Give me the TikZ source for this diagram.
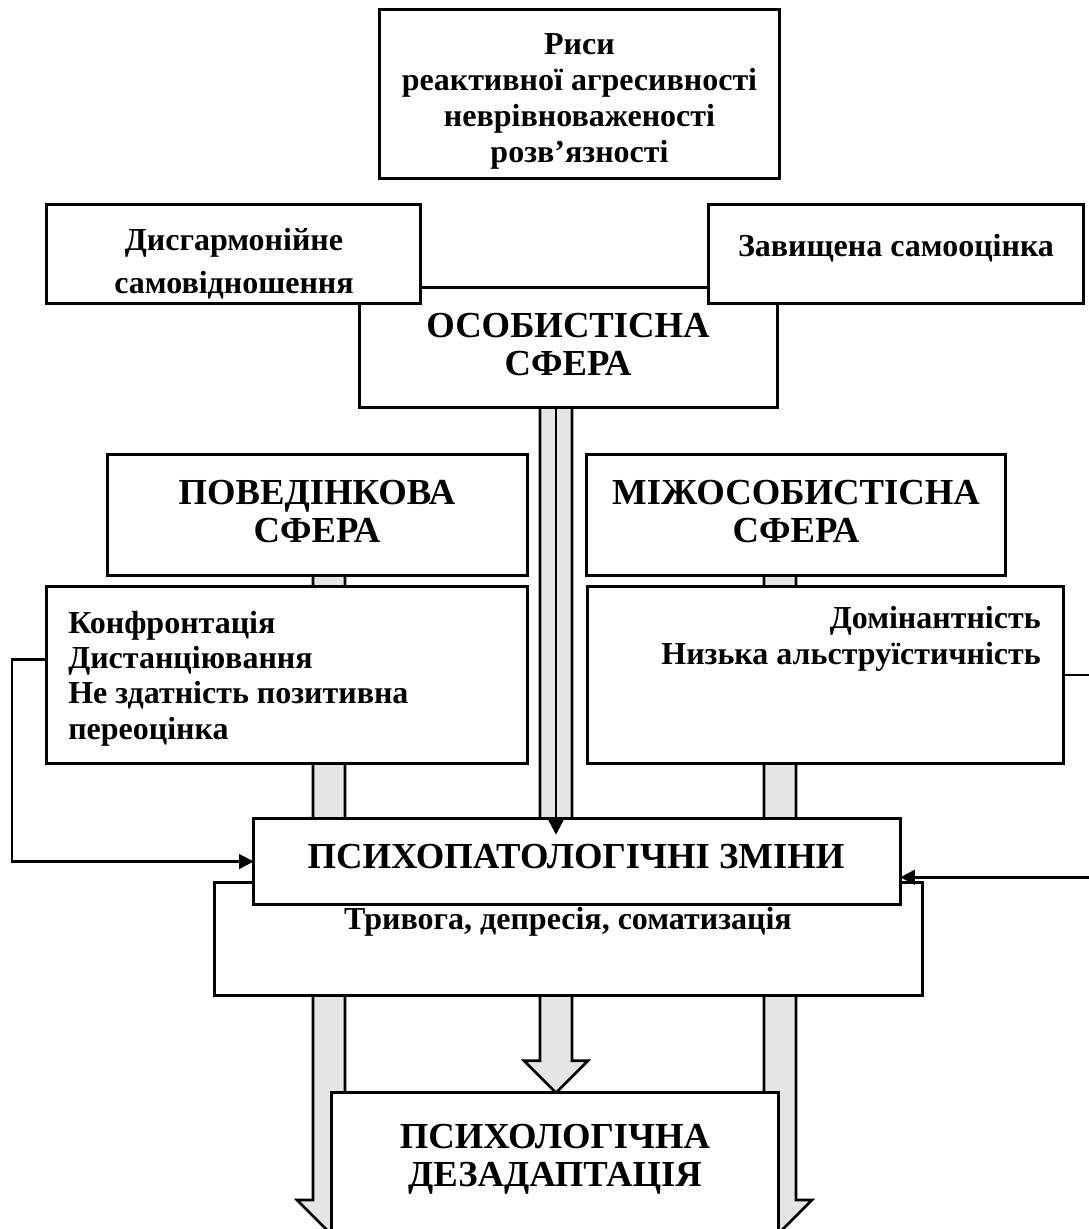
\documentclass[tikz,border=0pt]{standalone}
\usepackage{fontspec}
\setmainfont{Liberation Serif}
\usetikzlibrary{arrows.meta,calc}
\newcommand{\myshaft}[2]{%
  \draw[shaftst] let \p1=(#1), \p2=(#2) in
    (\x1-12pt,\y1) -- (\x1-12pt,\y2+24pt) -- (\x1-24pt,\y2+24pt) -- (\x1,\y2)
    -- (\x1+24pt,\y2+24pt) -- (\x1+12pt,\y2+24pt) -- (\x1+12pt,\y1) -- cycle;}
\tikzset{
  box/.style={draw, fill=white, line width=2pt, inner sep=0pt},
  shaftst/.style={draw, fill=black!10, line width=2pt, line join=miter},
  smalltxt/.style={font=\fontsize{24}{27.2}\selectfont\bfseries, inner sep=0pt},
  bigtxt/.style={font=\fontsize{27.5}{28.5}\selectfont\bfseries, align=center, inner sep=0pt},
  conn/.style={line width=1.9pt, -{Triangle[length=11pt,width=11pt]}},
}
\begin{document}
\begin{tikzpicture}[x=0.75pt,y=-0.75pt]
\useasboundingbox (0,0) rectangle (1089,1229);
\fill[white] (0,0) rectangle (1089,1229);
\clip (0,0) rectangle (1089,1229);

% boxes (geometry only first, for anchors)
\path
  (579.5,94)   node[minimum width=399*0.75pt, minimum height=168*0.75pt, inner sep=0pt] (risy) {}
  (568.5,347.5) node[minimum width=417*0.75pt, minimum height=119*0.75pt, inner sep=0pt] (osob) {}
  (233.5,254)  node[minimum width=373*0.75pt, minimum height=98*0.75pt, inner sep=0pt] (dys) {}
  (896,254)    node[minimum width=374*0.75pt, minimum height=98*0.75pt, inner sep=0pt] (zav) {}
  (317.5,515)  node[minimum width=419*0.75pt, minimum height=120*0.75pt, inner sep=0pt] (pov) {}
  (287,675)    node[minimum width=480*0.75pt, minimum height=177*0.75pt, inner sep=0pt] (konf) {}
  (796,515)    node[minimum width=418*0.75pt, minimum height=120*0.75pt, inner sep=0pt] (mizh) {}
  (825.5,675)  node[minimum width=475*0.75pt, minimum height=177*0.75pt, inner sep=0pt] (dom) {}
  (568.5,939)  node[minimum width=707*0.75pt, minimum height=112*0.75pt, inner sep=0pt] (tryv) {}
  (577,861.5)  node[minimum width=646*0.75pt, minimum height=85*0.75pt, inner sep=0pt] (psy) {}
  (555,1166.5) node[minimum width=446*0.75pt, minimum height=147*0.75pt, inner sep=0pt] (dez) {};

\coordinate (xl) at (329,0);
\coordinate (xr) at (780,0);
\coordinate (xm) at (556,0);
\coordinate (tipL) at (329,1232);
\coordinate (tipR) at (780,1232);

% block arrows (behind boxes)
\myshaft{xl |- pov.south}{tipL}
\myshaft{xr |- mizh.south}{tipR}
\myshaft{xm |- osob.south}{xm |- dez.north}

% visible boxes
\foreach \b in {risy,osob,dys,zav,pov,konf,mizh,dom,tryv,psy,dez}{
  \draw[box] (\b.north west) rectangle (\b.south east);
}

% texts
\node[smalltxt, align=center] (trisy) at (579.5,101.5)
  {Риси\\реактивної агресивності\\неврівноваженості\\розв’язності};
\node[smalltxt, align=center, font=\fontsize{24}{32}\selectfont\bfseries] (tdys) at (234,264)
  {Дисгармонійне\\самовідношення};
\node[smalltxt] (tzav) at (896,248) {Завищена самооцінка};
\node[bigtxt] (tosob) at (568,345) {ОСОБИСТІСНА\\СФЕРА};
\node[bigtxt] (tpov) at (317,512) {ПОВЕДІНКОВА\\СФЕРА};
\node[smalltxt, align=left, anchor=west, font=\fontsize{24}{26.5}\selectfont\bfseries] (tkonf) at (68,678.5)
  {Конфронтація\\Дистанціювання\\Не здатність позитивна\\переоцінка};
\node[bigtxt] (tmizh) at (796,512) {МІЖОСОБИСТІСНА\\СФЕРА};
\node[smalltxt, align=right, anchor=east] (tdom) at (1041,639)
  {Домінантність\\Низька альструїстичність};
\node[bigtxt] (tpsy) at (576,857) {ПСИХОПАТОЛОГІЧНІ ЗМІНИ};
\node[smalltxt] (ttryv) at (568,922) {Тривога, депресія, соматизація};
\node[bigtxt] (tdez) at (555,1159) {ПСИХОЛОГІЧНА\\ДЕЗАДАПТАЦІЯ};

% central thin arrow
\draw[conn] (xm |- osob.south) -- ($(xm |- psy.north)+(0,16)$);

% feedback arrows
\coordinate (kout) at ($(konf.north west)+(0,73)$);
\coordinate (lcorner) at (12,0);
\draw[conn] (kout) -- (kout -| lcorner) |- (psy.west);
\coordinate (dout) at (dom.east);
\coordinate (rcorner) at (1100,0);
\coordinate (pin) at ($(psy.south east)+(0,-27)$);
\draw[conn] (dout) -- (dout -| rcorner) |- (pin);
\end{tikzpicture}
\end{document}
